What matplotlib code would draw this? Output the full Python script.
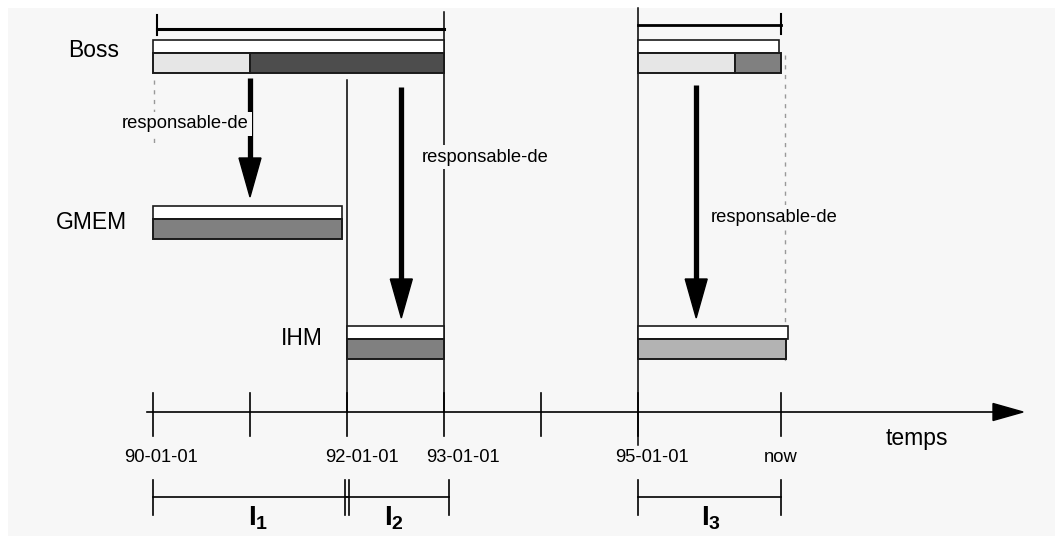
import matplotlib.pyplot as plt
from matplotlib.patches import Rectangle

plt.rcParams['font.family'] = ['Liberation Sans', 'DejaVu Sans']
plt.rcParams['mathtext.fontset'] = 'custom'
plt.rcParams['mathtext.rm'] = 'Liberation Sans'
plt.rcParams['mathtext.bf'] = 'Liberation Sans:bold'

# time in years (90 = 90-01-01), "now" is about mid-96
NOW = 96.47
tick_years = [90, 91, 92, 93, 94, 95, NOW]
tick_labels = ['90-01-01', '', '92-01-01', '93-01-01', '', '95-01-01', 'now']

entities = ['Boss', 'GMEM', 'IHM']
# validity (white bar) and sub-periods (gray bar) of each entity
boss_valid = [(90.0, 93.0), (95.0, 96.45)]
boss_periods = [(90.0, 91.0), (91.0, 93.0), (95.0, 96.0), (96.0, NOW)]
gmem_valid = [(90.0, 91.95)]
gmem_periods = [(90.0, 91.95)]
ihm_valid = [(92.0, 93.0), (95.0, 96.55)]
ihm_periods = [(92.0, 93.0), (95.0, 96.53)]

# "responsable-de" links (year where the arrow is drawn)
links = [91.0, 92.56, 95.6]
link_text = 'responsable-de'

# intervals I1, I2, I3
intervals = [(90.0, 92.0), (92.0, 93.05), (95.0, NOW)]
interval_names = ['1', '2', '3']

# colours
boss_colors = ['#e6e6e6', '#4d4d4d', '#e6e6e6', '#808080']
gmem_colors = ['#808080']
ihm_colors = ['#808080', '#b3b3b3']
BG = '#f7f7f7'
EDGE = '#1a1a1a'

# --- figure: x in years, y in pixels from the top
W, H = 1055, 536
PPY = 97.0          # pixels per year
X90 = 153.0         # pixel of 90-01-01
PX = 1.0 / PPY      # one pixel in years

fig = plt.figure(figsize=(W / 100, H / 100), dpi=100, facecolor='white')
fig.patches.append(Rectangle((8 / W, 0), 1, (H - 8) / H, transform=fig.transFigure,
                             facecolor=BG, edgecolor='none', zorder=-10))
ax = fig.add_axes([0, 0, 1, 1])
ax.set_xlim(90 - X90 / PPY, 90 + (W - X90) / PPY)
ax.set_ylim(H, 0)
ax.axis('off')
ax.patch.set_alpha(0)

def bars(valid, periods, colors, y_top):
    for s, e in valid:
        ax.barh(y_top, e - s, left=s, height=13, align='edge', color='white',
                edgecolor=EDGE, linewidth=1.2, zorder=3)
    for (s, e), c in zip(periods, colors):
        ax.barh(y_top + 13, e - s, left=s, height=20, align='edge', color=c,
                edgecolor=EDGE, linewidth=1.4, zorder=3)

bars(boss_valid, boss_periods, boss_colors, 40)
bars(gmem_valid, gmem_periods, gmem_colors, 206)
bars(ihm_valid, ihm_periods, ihm_colors, 326)

# entity names
name_pos = [(89.39, 57), (89.37, 229), (91.53, 345)]
for name, (x, y) in zip(entities, name_pos):
    ax.text(x, y, name, fontsize=16.5, ha='center', va='baseline', zorder=5)

# top brackets over Boss
ax.plot([90.04, 93.0], [29, 29], color='black', lw=2.2, zorder=4)
ax.plot([90.04, 90.04], [15, 35], color='black', lw=1.5, zorder=4)
ax.plot([95.0, NOW], [25, 25], color='black', lw=2.0, zorder=4)
ax.plot([NOW, NOW], [14, 34], color='black', lw=1.5, zorder=4)

# period boundaries
ax.plot([92, 92], [80, 412], color='black', lw=1.1, zorder=2)
ax.plot([93, 93], [12, 412], color='black', lw=1.1, zorder=2)
ax.plot([95, 95], [8, 445], color='black', lw=1.1, zorder=2)

# dashed guides
ax.plot([90.01, 90.01], [80, 146], color='#999999', lw=1.0, dashes=(3, 4), zorder=2)
ax.plot([96.52, 96.52], [55, 362], color='#999999', lw=1.0, dashes=(3, 4), zorder=2)

# responsable-de arrows
arrow_span = [(78, 197), (87, 318), (85, 318)]
for x, (y0, y1) in zip(links, arrow_span):
    head = 39
    ax.plot([x, x], [y0, y1 - head + 1], color='black', lw=3.8, solid_capstyle='butt', zorder=3)
    ax.fill([x - 11 * PX, x + 11 * PX, x], [y1 - head, y1 - head, y1], color='black', zorder=3)

link_pos = [(90.335, 124), (93.42, 157), (96.40, 217)]
for x, y in link_pos:
    ax.text(x, y, link_text, fontsize=13.2, ha='center', va='center', zorder=6,
            bbox=dict(facecolor=BG, edgecolor='none', pad=2.5))

# time axis
ax.plot([89.94, 98.66], [412, 412], color='black', lw=1.2, zorder=3)
ax.fill([98.66, 98.97, 98.66], [403.5, 412, 420.5], color='black', zorder=3)
label_nudge_px = [8, 0, 15, 19, 0, 14, 0]
for t, lab, dx in zip(tick_years, tick_labels, label_nudge_px):
    ax.plot([t, t], [393, 436], color='black', lw=1.2, zorder=3)
    if lab:
        ax.text(t + dx * PX, 462, lab, fontsize=13.2, ha='center', va='baseline', zorder=5)
ax.text(97.87, 445, 'temps', fontsize=16.5, ha='center', va='baseline', zorder=5)

# intervals
label_nudge_px = [8, -4, 2]
for i, ((s, e), n) in enumerate(zip(intervals, interval_names)):
    ax.plot([s, e], [497, 497], color='black', lw=1.2, zorder=3)
    sl = s + (1.5 * PX if i == 1 else 0)
    er = e - (1.5 * PX if i == 0 else 0)
    ax.plot([sl, sl], [480, 515], color='black', lw=1.2, zorder=3)
    ax.plot([er, er], [480, 515], color='black', lw=1.2, zorder=3)
    ax.text((s + e) / 2 + label_nudge_px[i] * PX, 526, r'$\mathbf{I_{%s}}$' % n,
            fontsize=20, ha='center', va='baseline', zorder=5)

fig.savefig('out.png', dpi=100, facecolor=fig.get_facecolor())
